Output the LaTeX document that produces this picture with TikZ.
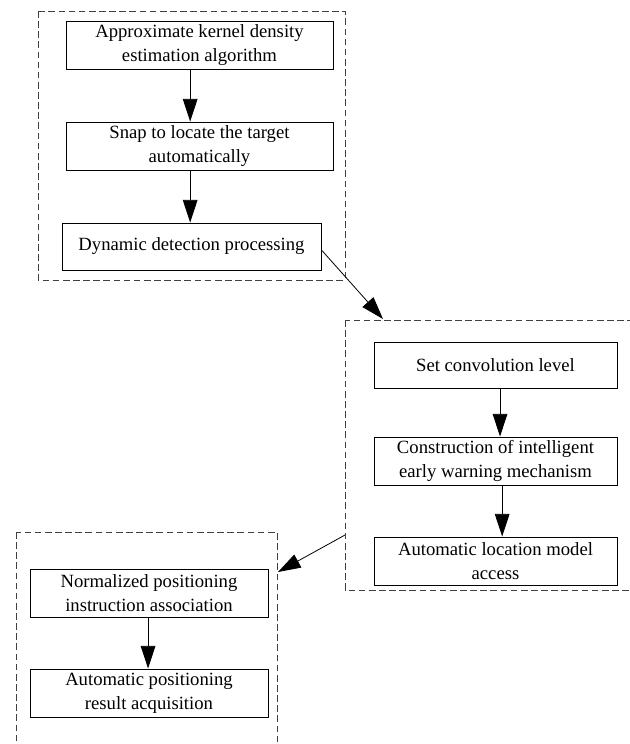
\documentclass[tikz,border=0pt]{standalone}
\usepackage{fontspec}
\setmainfont{Liberation Serif}
\usetikzlibrary{arrows.meta}

\begin{document}
\begin{tikzpicture}[x=0.75pt,y=0.75pt,yscale=-1,xscale=1,
  stepbox/.style={draw, line width=0.7pt, align=center, inner sep=0pt, font=\fontsize{14}{18}\selectfont},
  groupbox/.style={draw=black!75, line width=0.7pt, dash pattern={on 5pt off 2.6pt}},
  flow/.style={-{Triangle[length=17pt,width=11pt]}, line width=0.6pt}]
\clip (0,0) rectangle (630,744);

%Dashed Rect
\draw [groupbox] (38,11) rectangle (345,280);
%Dashed Rect
\draw [groupbox] (345,320) rectangle (640,590);
%Dashed Rect
\draw [groupbox] (16,532) rectangle (277,760);

% Text Node
\node [stepbox, minimum width=200.25pt, minimum height=36pt] (kde) at (199.5,45) {Approximate kernel density\\estimation algorithm};
% Text Node
\node [stepbox, minimum width=200.25pt, minimum height=36pt] (snap) at (199.5,146) {Snap to locate the target\\automatically};
% Text Node
\node [stepbox, minimum width=194.25pt, minimum height=35.25pt] (detect) at (191.5,246.5) {Dynamic detection processing};
% Text Node
\node [stepbox, minimum width=182.25pt, minimum height=34.5pt] (conv) at (495.5,365) {Set convolution level};
% Text Node
\node [stepbox, minimum width=182.25pt, minimum height=36pt] (warn) at (495.5,461) {Construction of intelligent\\early warning mechanism};
% Text Node
\node [stepbox, minimum width=182.25pt, minimum height=36pt] (model) at (495.5,561) {Automatic location model\\access};
% Text Node
\node [stepbox, minimum width=178.5pt, minimum height=36pt] (instr) at (149,593) {Normalized positioning\\instruction association};
% Text Node
\node [stepbox, minimum width=178.5pt, minimum height=36pt] (result) at (149,693) {Automatic positioning\\result acquisition};

%Group ends
\coordinate (g2in) at (383,319);
\coordinate (g2out) at (345,535);
\coordinate (g3in) at (278,572);

%Straight Lines
\draw [flow] ([xshift=-7pt]kde.south) -- ([xshift=-7pt]kde.south |- snap.north);
\draw [flow] ([xshift=-7pt]snap.south) -- ([xshift=-7pt]snap.south |- detect.north);
\draw [flow] ([yshift=2.6pt]detect.east) -- (g2in);
\draw [flow] ([xshift=3.4pt]conv.south) -- ([xshift=3.4pt]conv.south |- warn.north);
\draw [flow] ([xshift=5pt]warn.south) -- ([xshift=5pt]warn.south |- model.north);
\draw [flow] (g2out) -- (g3in);
\draw [flow] ([xshift=-0.7pt]instr.south) -- ([xshift=-0.7pt]instr.south |- result.north);

\end{tikzpicture}
\end{document}
